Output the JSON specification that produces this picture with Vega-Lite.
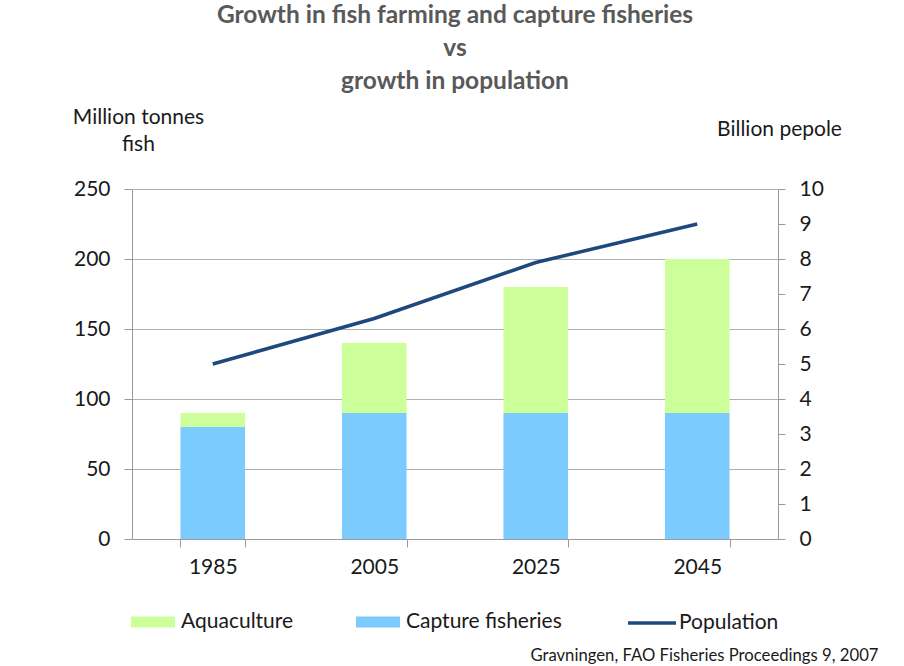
{
  "$schema": "https://vega.github.io/schema/vega-lite/v6.json",
  "width": 646,
  "height": 350,
  "autosize": {"type": "none"},
  "padding": {"left": 132, "top": 189, "right": 126, "bottom": 127},
  "background": "white",
  "config": {
    "font": "Lato",
    "view": {"stroke": null},
    "axis": {
      "labelFont": "Lato",
      "labelColor": "#1a1a1a",
      "labelFontSize": 21,
      "titleFont": "Lato",
      "titleColor": "#1a1a1a",
      "titleFontSize": 21,
      "titleFontWeight": "normal",
      "domainColor": "#9a9a9a",
      "tickColor": "#9a9a9a",
      "gridColor": "#b0b0b0"
    },
    "legend": {"labelFont": "Lato", "labelColor": "#1a1a1a", "labelFontSize": 21}
  },
  "title": {
    "text": ["Growth in fish farming and capture fisheries", "vs", "growth in population"],
    "font": "Lato",
    "fontSize": 24.5,
    "fontWeight": "bold",
    "color": "#595959",
    "lineHeight": 33,
    "anchor": "middle",
    "offset": 12
  },
  "datasets": {
    "fish": [
      {"year": "1985", "series": "Capture fisheries", "value": 80},
      {"year": "1985", "series": "Aquaculture", "value": 10},
      {"year": "2005", "series": "Capture fisheries", "value": 90},
      {"year": "2005", "series": "Aquaculture", "value": 50},
      {"year": "2025", "series": "Capture fisheries", "value": 90},
      {"year": "2025", "series": "Aquaculture", "value": 90},
      {"year": "2045", "series": "Capture fisheries", "value": 90},
      {"year": "2045", "series": "Aquaculture", "value": 110}
    ],
    "pop": [
      {"year": "1985", "series": "Population", "population": 5.0},
      {"year": "2005", "series": "Population", "population": 6.3},
      {"year": "2025", "series": "Population", "population": 7.9},
      {"year": "2045", "series": "Population", "population": 9.0}
    ]
  },
  "layer": [
    {
      "data": {"name": "fish"},
      "mark": {"type": "bar"},
      "encoding": {
        "x": {
          "field": "year",
          "type": "ordinal",
          "scale": {"paddingInner": 0.6, "paddingOuter": 0.3},
          "axis": {
            "labelAngle": 0,
            "labelPadding": 9,
            "tickBand": "extent",
            "tickSize": 8,
            "title": "Gravningen, FAO Fisheries Proceedings 9, 2007",
            "titleX": 746,
            "titleY": 116,
            "titleAlign": "right",
            "titleAnchor": "end",
            "titleBaseline": "middle",
            "titleFontSize": 16.7
          }
        },
        "y": {
          "field": "value",
          "type": "quantitative",
          "stack": "zero",
          "scale": {"domain": [0, 250]},
          "axis": {
            "orient": "left",
            "values": [0, 50, 100, 150, 200, 250],
            "grid": true,
            "tickSize": 8,
            "labelPadding": 14,
            "title": ["Million tonnes", "fish"],
            "titleAngle": 0,
            "titleAlign": "center",
            "titleBaseline": "top",
            "titleX": 6,
            "titleY": -83,
            "titleLineHeight": 27
          }
        },
        "fill": {
          "field": "series",
          "type": "nominal",
          "scale": {"domain": ["Aquaculture", "Capture fisheries"], "range": ["#CCFF99", "#7BCBFF"]},
          "legend": {
            "orient": "none",
            "legendX": -1,
            "legendY": 411,
            "direction": "horizontal",
            "title": null,
            "symbolType": "M-1,-0.25H1V0.25H-1Z",
            "symbolSize": 1936,
            "symbolStrokeWidth": 0,
            "symbolOpacity": 1,
            "labelOffset": 6,
            "columnPadding": 62
          }
        },
        "order": {"field": "series", "sort": "descending"}
      }
    },
    {
      "data": {"name": "pop"},
      "mark": {"type": "line", "strokeWidth": 3.5},
      "encoding": {
        "x": {"field": "year", "type": "ordinal"},
        "y": {
          "field": "population",
          "type": "quantitative",
          "scale": {"domain": [0, 10]},
          "axis": {
            "orient": "right",
            "values": [0, 1, 2, 3, 4, 5, 6, 7, 8, 9, 10],
            "grid": false,
            "tickSize": 7,
            "labelPadding": 14,
            "title": "Billion pepole",
            "titleAngle": 0,
            "titleAlign": "center",
            "titleBaseline": "middle",
            "titleX": 1,
            "titleY": -60
          }
        },
        "stroke": {
          "field": "series",
          "type": "nominal",
          "scale": {"domain": ["Population"], "range": ["#1F497D"]},
          "legend": {
            "orient": "none",
            "legendX": 494,
            "legendY": 408,
            "title": null,
            "symbolType": "stroke",
            "symbolSize": 2304,
            "symbolStrokeWidth": 3.5,
            "labelOffset": 1
          }
        }
      }
    }
  ],
  "resolve": {"scale": {"y": "independent"}}
}
